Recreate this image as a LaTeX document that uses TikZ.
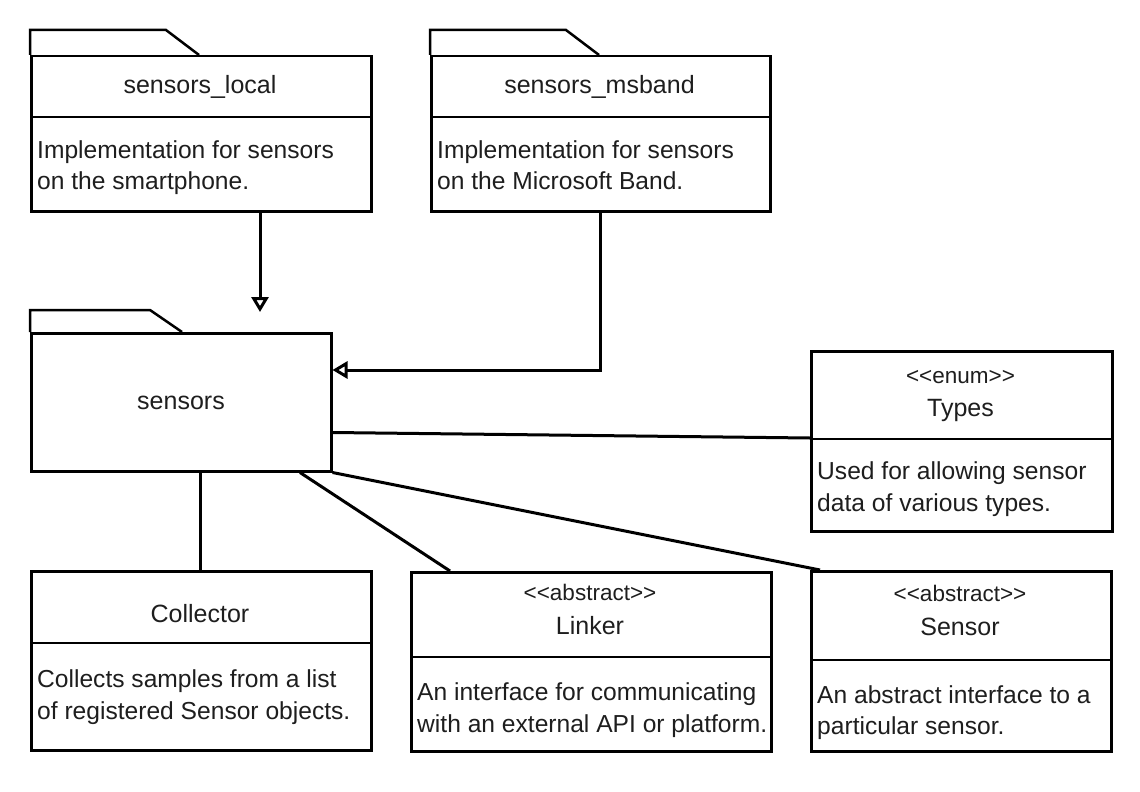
\documentclass[tikz,border=0pt]{standalone}
\usepackage{fontspec}
\setmainfont{Liberation Sans}
\usetikzlibrary{arrows.meta}
\definecolor{ink}{HTML}{1E1E1E}
\begin{document}
\begin{tikzpicture}[x=1pt,y=-1pt,
  box/.style={draw=black, line width=2.5pt, rectangle, inner sep=0pt, anchor=north west, fill=white},
  edge/.style={draw=black, line width=2.5pt, line join=miter},
  conn/.style={draw=black, line width=3pt},
  arr/.style={conn, -{Triangle[open, length=15pt, width=17pt, fill=white]}},
  ttl/.style={text=ink, font=\fontsize{25}{30}\selectfont, inner sep=0pt, anchor=base},
  ster/.style={text=ink, font=\fontsize{22.5}{26}\selectfont, inner sep=0pt, anchor=base},
  bdy/.style={text=ink, font=\fontsize{24.6}{30}\selectfont, inner sep=0pt, anchor=base west}
]
\useasboundingbox (0,0) rectangle (1140,792);

% ---------- sensors_local ----------
\node[box, minimum width=340pt, minimum height=155pt] (local) at (30,55) {};
\draw[edge] (local.north west) -- ++(0,-25) -- ++(136,0) -- ([xshift=169pt]local.north west);
\draw[edge] ([yshift=-62pt]local.north west) -- ([yshift=-62pt]local.north east);
\node[ttl] (lT) at (200,93) {sensors\_local};
\node[bdy] (lB1) at (37,158) {Implementation for sensors};
\node[bdy] (lB2) at (37,189) {on the smartphone.};

% ---------- sensors_msband ----------
\node[box, minimum width=339pt, minimum height=155pt] (msband) at (430,55) {};
\draw[edge] (msband.north west) -- ++(0,-25) -- ++(136,0) -- ([xshift=169pt]msband.north west);
\draw[edge] ([yshift=-62pt]msband.north west) -- ([yshift=-62pt]msband.north east);
\node[ttl] (mT) at (599.5,93) {sensors\_msband};
\node[bdy] (mB1) at (437,158) {Implementation for sensors};
\node[bdy] (mB2) at (437,189) {on the Microsoft Band.};

% ---------- sensors package ----------
\node[box, minimum width=300pt, minimum height=138pt] (pkg) at (30,332) {};
\draw[edge] (pkg.north west) -- ++(0,-22) -- ++(120,0) -- ([xshift=152pt]pkg.north west);
\node[ttl] (pT) at (181,409) {sensors};

% ---------- Types ----------
\node[box, minimum width=301pt, minimum height=180pt] (types) at (810,350) {};
\draw[edge] ([yshift=-89pt]types.north west) -- ([yshift=-89pt]types.north east);
\node[ster] (tS) at (960.5,383) {<{}<enum>{}>};
\node[ttl] (tT) at (960.5,416) {Types};
\node[bdy] (tB1) at (817,479) {Used for allowing sensor};
\node[bdy] (tB2) at (817,511) {data of various types.};

% ---------- Collector ----------
\node[box, minimum width=340pt, minimum height=179pt] (coll) at (30,570) {};
\draw[edge] ([yshift=-73pt]coll.north west) -- ([yshift=-73pt]coll.north east);
\node[ttl] (cT) at (200,622) {Collector};
\node[bdy] (cB1) at (37,687) {Collects samples from a list};
\node[bdy] (cB2) at (37,719) {of registered Sensor objects.};

% ---------- Linker ----------
\node[box, minimum width=360pt, minimum height=179pt] (linker) at (410,571) {};
\draw[edge] ([yshift=-86pt]linker.north west) -- ([yshift=-86pt]linker.north east);
\node[ster] (kS) at (590,600) {<{}<abstract>{}>};
\node[ttl] (kT) at (590,634) {Linker};
\node[bdy] (kB1) at (417,700) {An interface for communicating};
\node[bdy] (kB2) at (417,732) {with an external API or platform.};

% ---------- Sensor ----------
\node[box, minimum width=300pt, minimum height=180pt] (sensor) at (810,570) {};
\draw[edge] ([yshift=-90pt]sensor.north west) -- ([yshift=-90pt]sensor.north east);
\node[ster] (sS) at (960,601) {<{}<abstract>{}>};
\node[ttl] (sT) at (960,635) {Sensor};
\node[bdy] (sB1) at (817,703) {An abstract interface to a};
\node[bdy] (sB2) at (817,734) {particular sensor.};

% ---------- connectors ----------
\coordinate (a1) at (260,312);
\draw[arr] ([xshift=230pt]local.south west) -- (a1);
\draw[arr] (msband.south) |- ([yshift=-38pt]pkg.north east);
\draw[conn] ([yshift=40pt]pkg.south east) -- ([yshift=-88pt]types.north west);
\draw[conn] ([xshift=170pt]pkg.south west) -- ([xshift=170pt]coll.north west);
\draw[conn] ([xshift=270pt]pkg.south west) -- ([xshift=40pt]linker.north west);
\draw[conn] (pkg.south east) -- ([xshift=10pt]sensor.north west);
\end{tikzpicture}
\end{document}
